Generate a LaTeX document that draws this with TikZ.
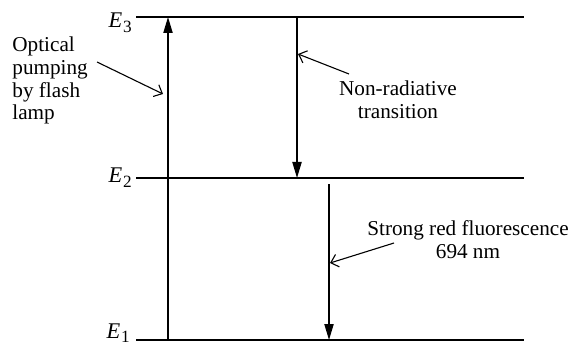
\documentclass[tikz,border=0pt]{standalone}
\usepackage{fontspec}
\setmainfont{Liberation Serif}
\usetikzlibrary{arrows.meta}
\newcommand{\lvl}[1]{\textit{E}\kern0.3pt\raisebox{-0.45ex}{\fontsize{8.6}{9}\selectfont #1}}

\begin{document}
\begin{tikzpicture}[x=0.5pt,y=-0.5pt,
  level/.style={line width=0.7pt},
  jump/.style={line width=0.7pt,-{Triangle[length=8pt,width=4.6pt]}},
  pointer/.style={line width=0.55pt,-{Straight Barb[length=3.5pt,width=6.5pt]}},
  txt/.style={font=\fontsize{10.6}{11.35}\selectfont,inner sep=0pt},
  lbl/.style={font=\fontsize{11.2}{12}\selectfont,inner sep=0pt,anchor=base east}]

  \useasboundingbox (0,0) rectangle (571,347);

  % Energy levels
  \coordinate (L3a) at (136,17);  \coordinate (L3b) at (524,17);
  \coordinate (L2a) at (136,178); \coordinate (L2b) at (524,178);
  \coordinate (L1a) at (136,340); \coordinate (L1b) at (524,340);
  \draw[level] (L3a) -- (L3b);
  \draw[level] (L2a) -- (L2b);
  \draw[level] (L1a) -- (L1b);

  % Level labels
  \node[lbl] (E3) at (132,28)  {\lvl{3}};
  \node[lbl] (E2) at (132,183) {\lvl{2}};
  \node[lbl] (E1) at (130,338) {\lvl{1}};

  % Transitions
  \coordinate (P1) at (168,340); \coordinate (P3) at (168,17);
  \coordinate (N3) at (297,17);  \coordinate (N2) at (297,178);
  \coordinate (F2) at (329,184); \coordinate (F1) at (329,340);
  \draw[jump] (P1) -- (P3);
  \draw[jump] (N3) -- (N2);
  \draw[jump] (F2) -- (F1);

  % Descriptions
  \node[txt,anchor=north west,align=left] (pump) at (12,36.5)
    {Optical\\pumping\\by flash\\lamp};
  \node[txt,anchor=north,align=center] (nonrad) at (398,80.5)
    {Non-radiative\\transition};
  \node[txt,anchor=north,align=center] (fluor) at (468,220.5)
    {Strong red fluorescence\\694 nm};

  % Pointers
  \coordinate (pumpA) at (97,62);   \coordinate (pumpB) at (163,94);
  \coordinate (nonA) at (349,74);   \coordinate (nonB) at (298,54);
  \coordinate (fluA) at (394,243);  \coordinate (fluB) at (330,263);
  \draw[pointer] (pumpA) -- (pumpB);
  \draw[pointer] (nonA) -- (nonB);
  \draw[pointer] (fluA) -- (fluB);

\end{tikzpicture}
\end{document}
